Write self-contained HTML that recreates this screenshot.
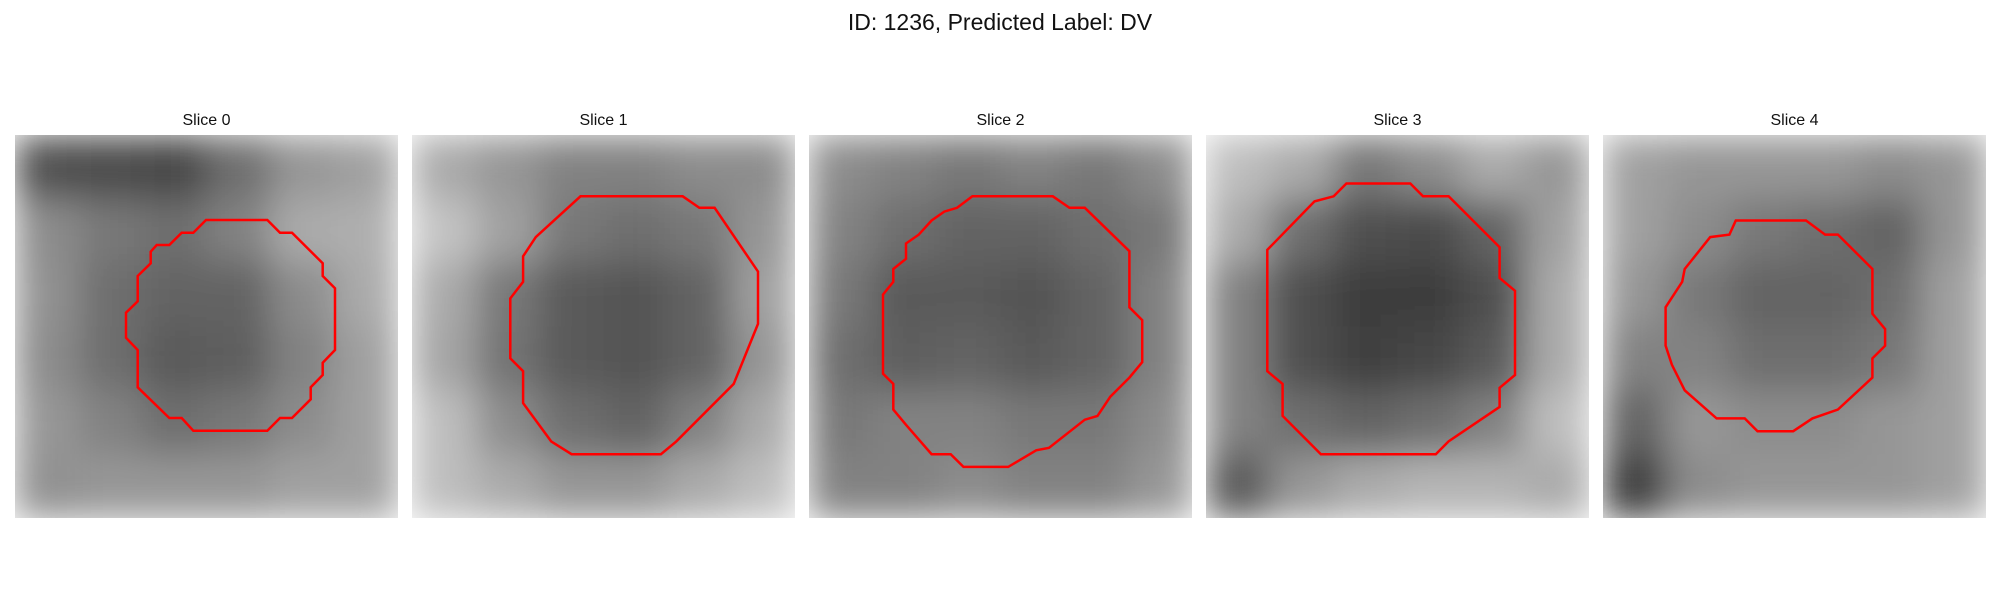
<!DOCTYPE html>
<html><head><meta charset="utf-8"><style>
body{margin:0;background:#fff;}
svg{display:block;font-family:"Liberation Sans","DejaVu Sans",sans-serif;}
</style></head><body>
<svg id="fig" width="2000" height="600" viewBox="0 0 2000 600" xmlns="http://www.w3.org/2000/svg">
<defs>
<filter id="bl" x="0" y="0" width="1" height="1"><feGaussianBlur stdDeviation="18" edgeMode="duplicate"/></filter>
</defs>
<text x="1000" y="30" text-anchor="middle" font-size="23" fill="#111">ID: 1236, Predicted Label: DV</text>
<g id="panels"></g>
</svg>
<script>
const sliceLabels = ["Slice 0","Slice 1","Slice 2","Slice 3","Slice 4"];
const intensity0 = [[80,75,70,110,150,160],[140,120,110,130,170,175],[145,110,100,100,140,170],[140,110,90,95,130,160],[150,130,110,120,140,160],[145,150,150,150,160,160]];
const intensity1 = [[170,150,130,130,140,140],[195,160,120,110,120,150],[170,120,90,85,100,160],[165,115,90,85,100,150],[190,140,110,100,130,170],[190,170,150,150,170,190]];
const intensity2 = [[140,130,120,130,120,140],[130,110,100,100,110,120],[120,90,90,85,100,130],[110,95,100,90,100,130],[120,130,130,120,120,140],[130,130,140,130,130,150]];
const intensity3 = [[190,170,120,140,170,150],[170,110,80,75,100,160],[130,80,60,60,80,170],[130,80,65,70,90,170],[130,110,100,110,130,190],[90,150,170,180,180,170]];
const intensity4 = [[160,150,150,150,140,150],[160,140,120,110,100,150],[150,120,100,100,110,160],[130,130,110,110,120,160],[100,150,140,140,150,160],[60,140,150,150,150,160]];
const intensities = [intensity0,intensity1,intensity2,intensity3,intensity4];
const SC = 383/300;
// contours in panel-local display units (0..300)
const contour0 = [[618,360],[802,360],[840,398],[876,398],[968,490],[968,528],[1005,565],[1005,750],[968,788],[968,825],[932,862],[932,898],[876,954],[840,954],[802,992],[580,992],[545,954],[508,954],[413,862],[413,750],[378,713],[378,638],[413,604],[413,528],[452,490],[452,455],[470,435],[508,435],[545,398],[580,398]].map(p=>[(p[0]/3-15)/SC,(p[1]/3-35)/SC]);
const contour1 = [[455,153],[535,153],[548,162],[560,162],[594,212],[594,253],[575,300],[530,345],[518,355],[448,355],[432,345],[410,315],[410,290],[400,280],[400,233],[410,220],[410,200],[420,185]].map(p=>[p[0]-323,p[1]-105]);
const contour2 = [[762,153],[825,153],[838,162],[850,162],[885,196],[885,240],[895,250],[895,283],[885,295],[870,310],[860,325],[850,328],[822,350],[812,352],[790,365],[755,365],[745,355],[730,355],[710,332],[700,320],[700,300],[692,292],[692,230],[700,220],[700,210],[710,202],[710,190],[720,183],[730,172],[740,165],[750,162]].map(p=>[p[0]-634,p[1]-105]);
const contour3 = [[1065,143],[1105,143],[1115,153],[1135,153],[1175,193],[1175,217],[1187,227],[1187,293],[1175,303],[1175,318],[1135,345],[1125,355],[1035,355],[1025,345],[1005,325],[1005,300],[993,290],[993,195],[1030,157],[1045,153],[1055,143]].map(p=>[p[0]-945,p[1]-105]);
const contour4 = [[1360,172],[1415,172],[1430,183],[1440,183],[1467,210],[1467,245],[1477,257],[1477,270],[1467,280],[1467,295],[1440,320],[1420,327],[1405,337],[1377,337],[1367,327],[1345,327],[1320,305],[1310,285],[1305,270],[1305,240],[1318,220],[1320,210],[1340,185],[1355,183]].map(p=>[p[0]-1256,p[1]-105]);
const contours = [contour0,contour1,contour2,contour3,contour4];

const NS="http://www.w3.org/2000/svg";
const panelX0=15, pitch=397, panelY=135, size=383, sc=size/300;
const root=document.getElementById('panels');
function mk(t,a){const e=document.createElementNS(NS,t);for(const k in a)e.setAttribute(k,a[k]);return e;}
sliceLabels.forEach((lab,i)=>{
  const x0=panelX0+i*pitch;
  const g=mk('g',{transform:`translate(${x0} ${panelY})`});
  
  
  const cp=mk('clipPath',{id:'cp'+i});cp.appendChild(mk('rect',{x:0,y:0,width:size,height:size}));g.appendChild(cp);
  const img=mk('g',{filter:'url(#bl)','clip-path':`url(#cp${i})`});
  
  
  const grid=intensities[i], n=grid.length, cs=size/n;
  grid.forEach((row,r)=>row.forEach((v,c)=>{
    const re=mk('rect',{x:c*cs,y:r*cs,width:cs+1,height:cs+1,fill:`rgb(${v},${v},${v})`});
    
    
    img.appendChild(re);
  }));
  g.appendChild(img);
  const pts=contours[i].map(p=>(p[0]*sc).toFixed(1)+','+(p[1]*sc).toFixed(1)).join(' ');
  const pl=mk('polygon',{points:pts,fill:'none',stroke:'#ff0000','stroke-width':2.5,'stroke-linejoin':'miter'});
  
  
  g.appendChild(pl);
  const t=mk('text',{x:size/2,y:-10,'text-anchor':'middle','font-size':16,fill:'#111'});
  t.textContent=lab;
  
  
  g.appendChild(t);
  root.appendChild(g);
});
</script>
</body></html>
